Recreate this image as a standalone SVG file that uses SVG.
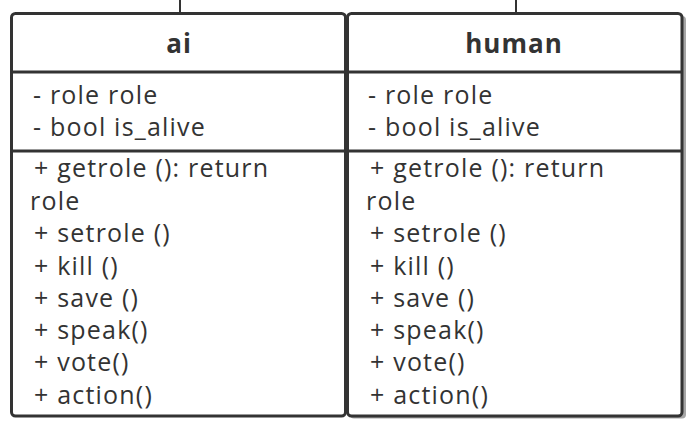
<svg xmlns="http://www.w3.org/2000/svg" width="695" height="425" viewBox="0 0 695 425">
  <style>
    .box { fill: #ffffff; stroke: #333333; stroke-width: 3; }
    .shadow { fill: #a6a6a6; }
    .sep { stroke: #333333; stroke-width: 3; }
    .title { font-family: "Open Sans", "Noto Sans", sans-serif; font-size: 26px; font-weight: bold; letter-spacing: 1px; fill: #333333; text-anchor: middle; }
    .item { font-family: "Open Sans", "Noto Sans", sans-serif; font-size: 25px; letter-spacing: 1.2px; fill: #333333; }
    .wire { stroke: #333333; stroke-width: 2; fill: none; }
  </style>

  <g id="connectors">
    <line class="wire" x1="180" y1="0" x2="180" y2="13"/>
    <line class="wire" x1="516" y1="0" x2="516" y2="13"/>
  </g>

  <g id="ai">
    <rect class="box" x="11.5" y="13.5" width="334" height="402.5" rx="4"/>
    <line class="sep" x1="11.5" y1="72" x2="345.5" y2="72"/>
    <line class="sep" x1="11.5" y1="151" x2="345.5" y2="151"/>
    <text class="title" x="179" y="53">ai</text>
    <text class="item" x="33" y="104">- role role</text>
    <text class="item" x="33" y="136">- bool is_alive</text>
    <text class="item" x="34" y="177">+ getrole (): return</text>
    <text class="item" x="30" y="209.5">role</text>
    <text class="item" x="34" y="242">+ setrole ()</text>
    <text class="item" x="34" y="274.5">+ kill ()</text>
    <text class="item" x="34" y="307">+ save ()</text>
    <text class="item" x="34" y="339">+ speak()</text>
    <text class="item" x="34" y="371">+ vote()</text>
    <text class="item" x="34" y="403.5">+ action()</text>
  </g>

  <g id="human">
    <rect class="shadow" x="350" y="16" width="336" height="402.5" rx="4"/>
    <rect class="box" x="347.5" y="13.5" width="334.5" height="402.5" rx="4"/>
    <line class="sep" x1="347.5" y1="72" x2="682" y2="72"/>
    <line class="sep" x1="347.5" y1="151" x2="682" y2="151"/>
    <text class="title" x="514" y="53">human</text>
    <text class="item" x="368" y="104">- role role</text>
    <text class="item" x="368" y="136">- bool is_alive</text>
    <text class="item" x="370" y="177">+ getrole (): return</text>
    <text class="item" x="366" y="209.5">role</text>
    <text class="item" x="370" y="242">+ setrole ()</text>
    <text class="item" x="370" y="274.5">+ kill ()</text>
    <text class="item" x="370" y="307">+ save ()</text>
    <text class="item" x="370" y="339">+ speak()</text>
    <text class="item" x="370" y="371">+ vote()</text>
    <text class="item" x="370" y="403.5">+ action()</text>
  </g>
</svg>
